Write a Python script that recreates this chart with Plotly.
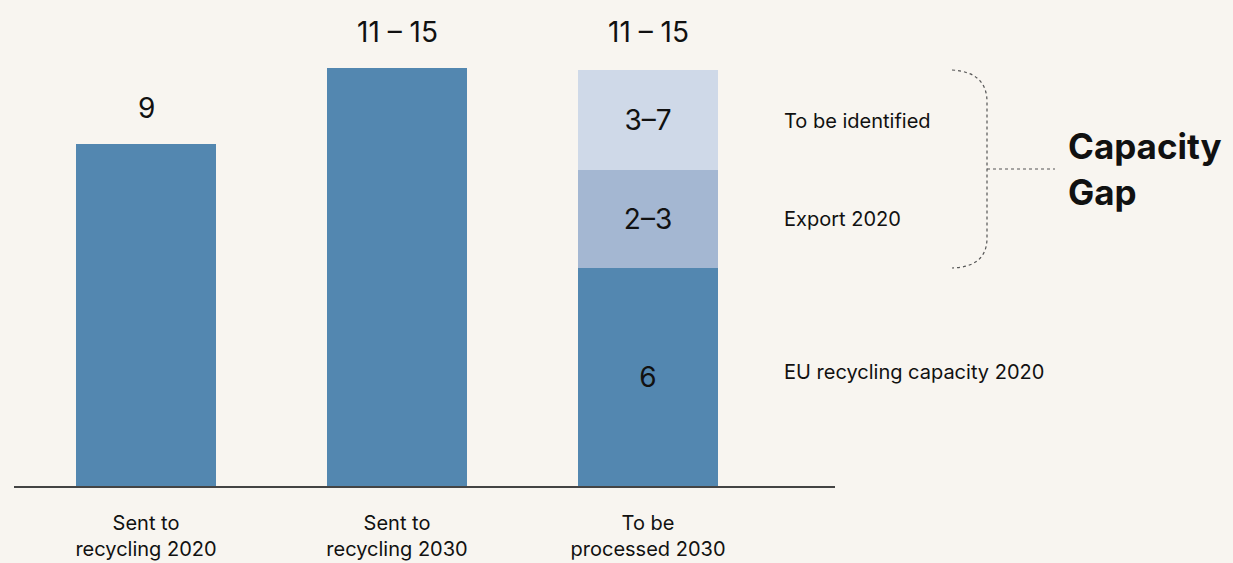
import plotly.graph_objects as go

categories = ["Sent to<br>recycling 2020", "Sent to<br>recycling 2030", "To be<br>processed 2030"]
eu_capacity = [9, 11, 5.74]
export_2020 = [None, None, 2.58]
to_be_identified = [None, None, 2.63]
eu_text = ["", "", "6"]
export_text = ["", "", "2–3"]
tbi_text = ["", "", "3–7"]
total_labels = ["9", "11 – 15", "11 – 15"]
label_levels = [9, 11, 11]
segment_names = ["EU recycling capacity 2020", "Export 2020", "To be identified"]

W, H = 1233, 563
L, R, T, B = 14, 1233 - 835, 0, 77
PW, PH = W - L - R, H - T - B

def px(x):
    return (x - L) / PW

def py(y):
    return (H - B - y) / PH

BG = "#f8f5f0"
FONT = "Inter"
C_DARK = "#5387b0"
C_MID = "#a4b7d2"
C_LIGHT = "#cfd9e8"

fig = go.Figure()
for vals, txt, col, name in [
    (eu_capacity, eu_text, C_DARK, segment_names[0]),
    (export_2020, export_text, C_MID, segment_names[1]),
    (to_be_identified, tbi_text, C_LIGHT, segment_names[2]),
]:
    fig.add_trace(go.Bar(
        x=categories, y=vals, text=txt, name=name,
        marker=dict(color=col, line=dict(width=0)),
        width=0.558,
        textposition="inside", insidetextanchor="middle",
        textfont=dict(family=FONT, size=28, color="#111111"),
        constraintext="none", showlegend=False, hoverinfo="skip",
    ))

for c, t, v in zip(categories, total_labels, label_levels):
    fig.add_annotation(x=c, y=v, text=t, showarrow=False, yanchor="bottom",
                       yshift=17, font=dict(family=FONT, size=28, color="#111111"))

# right-side segment labels
label_y = [372, 219, 121]
for name, yy in zip(segment_names, label_y):
    fig.add_annotation(xref="paper", yref="paper", x=px(782), y=py(yy), text=name,
                       showarrow=False, xanchor="left", yanchor="middle",
                       font=dict(family=FONT, size=20, color="#111111"))

fig.add_annotation(xref="paper", yref="paper", x=px(1066), y=py(169),
                   text="<b>Capacity<br>Gap</b>", showarrow=False, xanchor="left",
                   yanchor="middle", align="left",
                   font=dict(family=FONT, size=35, color="#111111"))

def P(x, y):
    return f"{px(x)},{py(y)}"

bracket = (f"M {P(952,70)} Q {P(987,72)} {P(987,102)} L {P(987,238)} "
           f"Q {P(987,267)} {P(952,268)}")
fig.add_shape(type="path", xref="paper", yref="paper", path=bracket,
              line=dict(color="#555555", width=1.2, dash="dot"))
fig.add_shape(type="line", xref="paper", yref="paper",
              x0=px(987), y0=py(169), x1=px(1055), y1=py(169),
              line=dict(color="#555555", width=1.2, dash="dot"))

fig.update_layout(
    barmode="stack", width=W, height=H,
    margin=dict(l=L, r=R, t=T, b=B, pad=0),
    paper_bgcolor=BG, plot_bgcolor=BG,
    font=dict(family=FONT, color="#111111"),
    bargap=0,
)
fig.update_xaxes(range=[-0.526, 2.745], showline=True, linecolor="#444444", linewidth=1.5,
                 showgrid=False, zeroline=False, ticks="outside", ticklen=18,
                 tickcolor=BG, tickfont=dict(family=FONT, size=20, color="#111111"))
fig.update_yaxes(range=[0, PH / 38.0], visible=False, showgrid=False, zeroline=False)

fig.write_html("out.html", config={"displayModeBar": False},
               post_script="document.body.style.margin='0';document.body.style.padding='0';")
